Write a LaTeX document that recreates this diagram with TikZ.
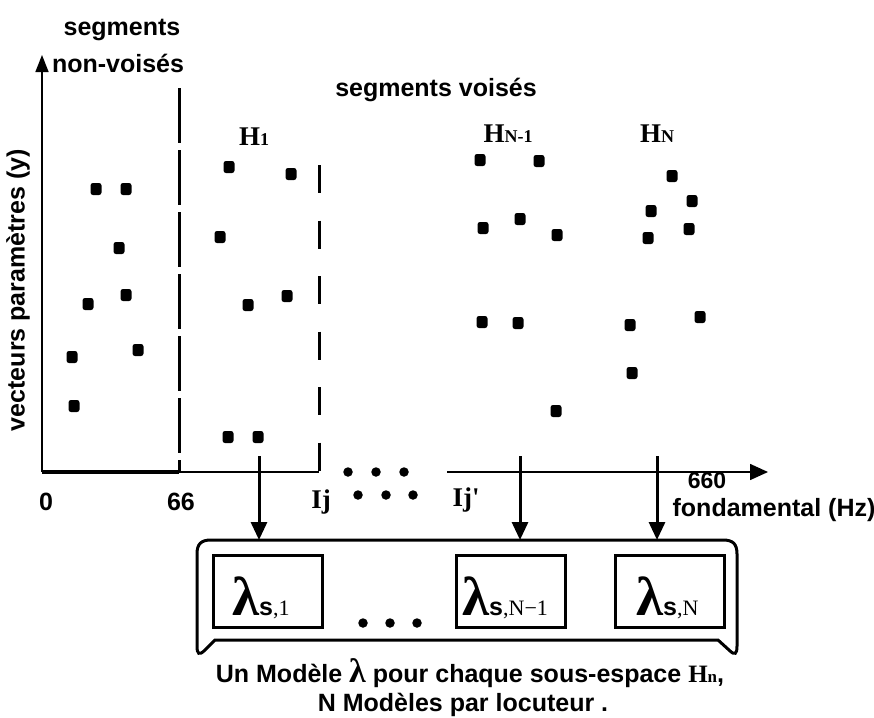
\documentclass[tikz,border=0pt]{standalone}
\usepackage{fontspec}
\setmainfont{Liberation Sans}
\newfontfamily\tm{Liberation Serif}
\usetikzlibrary{arrows.meta}
\begin{document}
\begin{tikzpicture}[x=1pt,y=-1pt,
  lab/.style={inner sep=0pt, font=\bfseries\fontsize{25}{28}\selectfont},
  hlab/.style={inner sep=0pt, font=\tm\bfseries\fontsize{27}{29}\selectfont},
  dot/.style={fill=black, rounded corners=2.5pt, minimum width=11pt, minimum height=12pt, inner sep=0pt},
  edot/.style={fill=black, circle, minimum size=9.5pt, inner sep=0pt},
  lbox/.style={draw, line width=3pt, minimum width=109pt, minimum height=72pt, inner sep=0pt},
  arr/.style={line width=3pt, -{Triangle[length=18pt,width=16pt]}},
  axis/.style={line width=1.6pt}
]
\useasboundingbox (0,0) rectangle (874,717);

% axes
\coordinate (o) at (42,472);
\coordinate (ytop) at (42,55);
\coordinate (x66) at (179,472);
\coordinate (xij) at (319,472);
\coordinate (xij2) at (447,472);
\coordinate (xend) at (768,472);
\draw[axis, -{Triangle[length=17pt,width=13pt]}] (o) -- (ytop);
\draw[line width=3.5pt] (o) -- (x66);
\draw[axis] (x66) -- (xij);
\draw[axis, -{Triangle[length=18pt,width=16pt]}] (xij2) -- (xend);

% dashed separators
\coordinate (d1a) at (179,88);
\coordinate (d2a) at (319,165);
\draw[line width=3pt, dash pattern=on 55pt off 7pt] (d1a) -- (x66);
\draw[line width=3pt, dash pattern=on 28pt off 27.5pt] (d2a) -- (xij);

% labels
\node[lab] (seg) at (122,30) {segments};
\node[lab] (nv) at (118,63) {non-voisés};
\node[lab] (sv) at (436,90) {segments voisés};
\node[lab, rotate=90] (ylab) at (18,290) {vecteurs paramètres (y)};
\node[hlab] (h1) at (254,137) {H\fontsize{18}{18}\selectfont 1};
\node[hlab] (hn1) at (508,134) {H\fontsize{18}{18}\selectfont N-1};
\node[hlab] (hn) at (657,134) {H\fontsize{18}{18}\selectfont N};
\node[lab] (l0) at (46,502) {0};
\node[lab] (l66) at (181,502) {66};
\node[hlab] (lij) at (321,502) {Ij};
\node[hlab] (lij2) at (466,500) {Ij'};
\node[lab, font=\bfseries\fontsize{23}{25}\selectfont] (l660) at (707,481) {660};
\node[lab] (lf) at (774,510) {fondamental (Hz)};

% data points
\foreach \x/\y [count=\i] in {96/189,126/189,119/248,88/304,126/295,138/350,72/357,74/406,
  229/167,291/174,220/237,248/305,287/296,228/437,258/437,
  480/160,539/161,483/228,520/219,557/235,482/322,518/323,556/411,
  672/176,692/201,651/211,689/229,648/238,700/317,630/325,632/373}
  \node[dot] (p\i) at (\x,\y) {};

% ellipsis dots
\foreach \x/\y [count=\i] in {348/472,376/472,404/472,358/495,386/495,413/495,363/623,390/623,417/623}
  \node[edot] (e\i) at (\x,\y) {};

% bracket
\draw[line width=3pt] (215,640) -- (205,650) .. controls (199,656) and (197,654) .. (197,646)
  -- (197,554) .. controls (197,544) and (201,540) .. (211,540)
  -- (723,540) .. controls (733,540) and (737,544) .. (737,554)
  -- (737,646) .. controls (737,654) and (735,656) .. (729,650) -- (718,640) -- cycle;

% arrows
\coordinate (s1) at (259,456); \coordinate (t1) at (259,540);
\coordinate (s2) at (520,456); \coordinate (t2) at (520,540);
\coordinate (s3) at (657,456); \coordinate (t3) at (657,540);
\draw[arr] (s1) -- (t1);
\draw[arr] (s2) -- (t2);
\draw[arr] (s3) -- (t3);

% model boxes
\node[lbox] (m1) at (267.5,591) {};
\node[lbox] (m2) at (510.5,591) {};
\node[lbox] (m3) at (669.5,591) {};
\node[inner sep=0pt, anchor=base west] (lm1) at (232,615)
  {{\tm\bfseries\fontsize{55}{55}\selectfont λ}{\bfseries\fontsize{25}{25}\selectfont s}{\tm\fontsize{22}{22}\selectfont ,1}};
\node[inner sep=0pt, anchor=base west] (lm2) at (462,615)
  {{\tm\bfseries\fontsize{55}{55}\selectfont λ}{\bfseries\fontsize{25}{25}\selectfont s}{\tm\fontsize{22}{22}\selectfont ,N−1}};
\node[inner sep=0pt, anchor=base west] (lm3) at (636,615)
  {{\tm\bfseries\fontsize{55}{55}\selectfont λ}{\bfseries\fontsize{25}{25}\selectfont s}{\tm\fontsize{22}{22}\selectfont ,N}};

% caption
\node[lab] (c1) at (470,673) {Un Modèle {\tm\fontsize{34}{34}\selectfont λ} pour chaque sous-espace {\tm\fontsize{25}{25}\selectfont H\fontsize{17}{17}\selectfont n},};
\node[lab] (c2) at (463,705) {N Modèles par locuteur .};
\end{tikzpicture}
\end{document}
